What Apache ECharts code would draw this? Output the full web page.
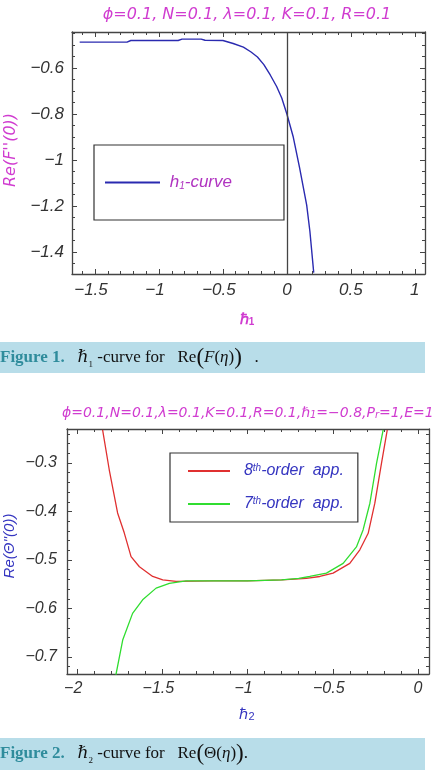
<!DOCTYPE html>
<html>
<head>
<meta charset="utf-8">
<script src="https://cdn.jsdelivr.net/npm/echarts@6/dist/echarts.min.js"></script>
<style>
  html, body { margin: 0; padding: 0; background: #fff; }
  #main { width: 433px; height: 781px; }
</style>
</head>
<body>
<div id="main"></div>
<script>
// Figure 1: h1-curve of Re(F''(0))
var h1Values = [-1.62, -1.25, -1.22, -0.85, -0.82, -0.67, -0.64, -0.5, -0.42, -0.34, -0.28, -0.23,
  -0.18, -0.13, -0.08, -0.04, 0, 0.05, 0.1, 0.155, 0.18, 0.21];
var reFValues = [-0.487, -0.487, -0.480, -0.480, -0.474, -0.474, -0.479, -0.480, -0.493, -0.509, -0.53, -0.552,
  -0.585, -0.63, -0.68, -0.73, -0.8, -0.9, -1.035, -1.196, -1.31, -1.49];

// Figure 2: h2-curves of Re(Theta''(0))
var h2Red = [-1.851, -1.812, -1.763, -1.724, -1.684, -1.635, -1.557, -1.498, -1.42, -1.2, -1.0, -0.8,
  -0.7, -0.655, -0.576, -0.498, -0.4, -0.341, -0.292, -0.253, -0.214, -0.18];
var thetaRed = [-0.232, -0.314, -0.403, -0.444, -0.493, -0.514, -0.534, -0.541, -0.544, -0.543, -0.543, -0.541,
  -0.539, -0.538, -0.534, -0.527, -0.507, -0.479, -0.445, -0.383, -0.301, -0.232];
var h2Green = [-1.773, -1.733, -1.675, -1.616, -1.537, -1.459, -1.361, -1.2, -1.0, -0.8, -0.7, -0.635,
  -0.537, -0.439, -0.361, -0.322, -0.282, -0.243, -0.204];
var thetaGreen = [-0.737, -0.665, -0.610, -0.582, -0.558, -0.548, -0.543, -0.543, -0.543, -0.541, -0.538, -0.534,
  -0.527, -0.507, -0.473, -0.438, -0.383, -0.301, -0.232];

var legend1Names = ['h1-curve'];
var legend2Names = ['8th-order  app.', '7th-order  app.'];

var magenta = '#d03cd0';
var blue = '#3535c0';
var frameColor = '#444';
var sans = '"Liberation Sans", Arial, sans-serif';
var wide = '"DejaVu Sans", sans-serif';
var serif = '"Liberation Serif", "DejaVu Serif", serif';

function pairs(xs, ys) {
  return xs.map(function (x, i) { return [x, ys[i]]; });
}

function xTickFormat(v) {
  var s = String(+v.toFixed(2));
  if (v < 0) {
    return '\u2212' + s.slice(1) + '{pad| }';
  }
  return s;
}

function yTickFormat(v) {
  var s = String(+v.toFixed(2));
  return v < 0 ? '\u2212' + s.slice(1) : s;
}

function tickLabel(fontSize, margin, formatter) {
  return {
    show: true,
    margin: margin,
    showMinLabel: false,
    showMaxLabel: false,
    color: '#333',
    fontSize: fontSize,
    fontStyle: 'italic',
    fontFamily: sans,
    formatter: formatter,
    rich: { pad: { width: 8, fontSize: fontSize } }
  };
}

// four axes per direction: major + minor ticks on both sides of the frame
function frameAxes(kind, gridIndex, min, max, major, minor, label) {
  var axes = [];
  var sides = kind === 'x' ? ['bottom', 'top'] : ['left', 'right'];
  sides.forEach(function (side, s) {
    [major, minor].forEach(function (step, m) {
      axes.push({
        type: 'value',
        gridIndex: gridIndex,
        position: side,
        min: min,
        max: max,
        minInterval: step,
        maxInterval: step,
        axisLine: { show: m === 0, onZero: false, lineStyle: { color: frameColor, width: 1.3 } },
        axisTick: { show: true, inside: true, length: m === 0 ? 5 : 3, lineStyle: { color: frameColor, width: 1 } },
        axisLabel: (s === 0 && m === 0) ? label : { show: false },
        splitLine: { show: false }
      });
    });
  });
  return axes;
}

function text(x, y, content, style, rotation) {
  var st = Object.assign({
    text: content,
    align: 'center',
    verticalAlign: 'middle',
    textAlign: 'center',
    textVerticalAlign: 'middle'
  }, style);
  return { type: 'text', x: x, y: y, rotation: rotation || 0, z: 10, style: st };
}

var xAxes = frameAxes('x', 0, -1.68, 1.08, 0.5, 0.1, tickLabel(17, 8, xTickFormat))
  .concat(frameAxes('x', 1, -2.06, 0.065, 0.5, 0.1, tickLabel(16, 7, xTickFormat)));
var yAxes = frameAxes('y', 0, -1.496, -0.443, 0.2, 0.05, tickLabel(17, 8, yTickFormat))
  .concat(frameAxes('y', 1, -0.735, -0.23, 0.1, 0.02, tickLabel(16, 10, yTickFormat)));

function caption(y, num, body) {
  return text(0, y, '{fig|Figure ' + num + '.}   {it|ℏ}{sb|' + num + '} -curve for   Re{bp|(}' + body,
    { fill: '#111', fontSize: 17, fontFamily: serif, align: 'left', textAlign: 'left',
      rich: {
        fig: { fontSize: 17, fontWeight: 'bold', fontFamily: serif, fill: '#2f8c9c' },
        it: { fontSize: 17, fontStyle: 'italic', fontFamily: serif, fill: '#111' },
        sb: { fontSize: 9, fontFamily: serif, fill: '#111', verticalAlign: 'bottom' },
        bp: { fontSize: 23, fontFamily: serif, fill: '#111' }
      } });
}

var graphics = [
  { type: 'rect', shape: { x: 0, y: 342, width: 425, height: 31 }, style: { fill: '#b8dde9' }, z: 1 },
  { type: 'rect', shape: { x: 0, y: 738, width: 425, height: 32 }, style: { fill: '#b8dde9' }, z: 1 },
  text(247, 15, 'ϕ=0.1, N=0.1, λ=0.1, K=0.1, R=0.1',
    { fill: magenta, fontSize: 16, fontStyle: 'italic', fontFamily: wide }),
  text(62, 413, 'ϕ=0.1,N=0.1,λ=0.1,K=0.1,R=0.1,ℏ{sub|1}=\u22120.8,P{sub|r}=1,E=1',
    { fill: magenta, fontSize: 14, fontStyle: 'italic', fontFamily: wide, align: 'left', textAlign: 'left',
      rich: { sub: { fontSize: 10, fontStyle: 'italic', fontFamily: wide, fill: magenta, verticalAlign: 'bottom' } } }),
  text(11, 150, 'Re(F\'\'(0))',
    { fill: magenta, fontSize: 16, fontStyle: 'italic', fontFamily: wide }, Math.PI / 2),
  text(10, 546, 'Re(Θ\'\'(0))',
    { fill: blue, fontSize: 15, fontStyle: 'italic', fontFamily: sans }, Math.PI / 2),
  text(247, 320, 'ℏ{sub|1}',
    { fill: magenta, fontSize: 15, fontWeight: 'bold', fontFamily: sans,
      rich: { sub: { fontSize: 10, fontWeight: 'bold', fill: magenta, verticalAlign: 'bottom' } } }),
  text(247, 715, 'ℏ{sub|2}',
    { fill: blue, fontSize: 15, fontFamily: sans,
      rich: { sub: { fontSize: 11, fill: blue, verticalAlign: 'bottom' } } }),
  caption(358, 1, '{it|F}({it|η}){bp|)}   .'),
  caption(754, 2, 'Θ({it|η}){bp|)}.')
];

var chart = echarts.init(document.getElementById('main'), null, { renderer: 'canvas' });
chart.setOption({
  animation: false,
  grid: [
    { left: 72, top: 32, width: 353, height: 242, outerBoundsMode: 'none' },
    { left: 67, top: 429, width: 362, height: 245, outerBoundsMode: 'none' }
  ],
  xAxis: xAxes,
  yAxis: yAxes,
  legend: [
    {
      data: legend1Names,
      left: 94, top: 145,
      padding: [29, 52, 29, 11],
      borderColor: '#333', borderWidth: 1.2,
      itemWidth: 55, itemHeight: 2, icon: 'rect',
      selectedMode: false,
      formatter: function () { return ' {it|h}{sub|1}{it|-curve}'; },
      textStyle: {
        color: '#b033c0', fontSize: 17, fontStyle: 'italic', fontFamily: sans,
        rich: {
          it: { fontSize: 17, fontStyle: 'italic', fontFamily: sans, color: '#b033c0' },
          sub: { fontSize: 10, fontStyle: 'italic', fontFamily: sans, color: '#b033c0', verticalAlign: 'bottom' }
        }
      }
    },
    {
      data: legend2Names,
      left: 170, top: 453,
      orient: 'vertical',
      itemGap: 17,
      padding: [10, 14, 10, 18],
      borderColor: '#333', borderWidth: 1.2,
      itemWidth: 42, itemHeight: 2, icon: 'rect',
      selectedMode: false,
      formatter: function (name) {
        return '  {n|' + name.charAt(0) + '}{sup|th}{n|' + name.slice(3) + '}';
      },
      textStyle: {
        color: blue, fontSize: 16, fontStyle: 'italic', fontFamily: sans,
        rich: {
          n: { fontSize: 16, fontStyle: 'italic', fontFamily: sans, color: blue },
          sup: { fontSize: 10, fontStyle: 'italic', fontFamily: sans, color: blue, verticalAlign: 'top' }
        }
      }
    }
  ],
  series: [
    {
      name: legend1Names[0],
      type: 'line',
      xAxisIndex: 0, yAxisIndex: 0,
      data: pairs(h1Values, reFValues),
      showSymbol: false,
      itemStyle: { color: '#2a2ab0' },
      lineStyle: { color: '#2a2ab0', width: 1.4 },
      markLine: {
        silent: true,
        symbol: ['none', 'none'],
        label: { show: false },
        lineStyle: { color: frameColor, width: 1.3, type: 'solid' },
        data: [{ xAxis: 0 }]
      }
    },
    {
      name: legend2Names[0],
      type: 'line',
      xAxisIndex: 4, yAxisIndex: 4,
      data: pairs(h2Red, thetaRed),
      showSymbol: false,
      itemStyle: { color: '#e03030' },
      lineStyle: { color: '#e03030', width: 1.3 }
    },
    {
      name: legend2Names[1],
      type: 'line',
      xAxisIndex: 4, yAxisIndex: 4,
      data: pairs(h2Green, thetaGreen),
      showSymbol: false,
      itemStyle: { color: '#30dd30' },
      lineStyle: { color: '#30dd30', width: 1.3 }
    }
  ],
  graphic: graphics
});
</script>
</body>
</html>
